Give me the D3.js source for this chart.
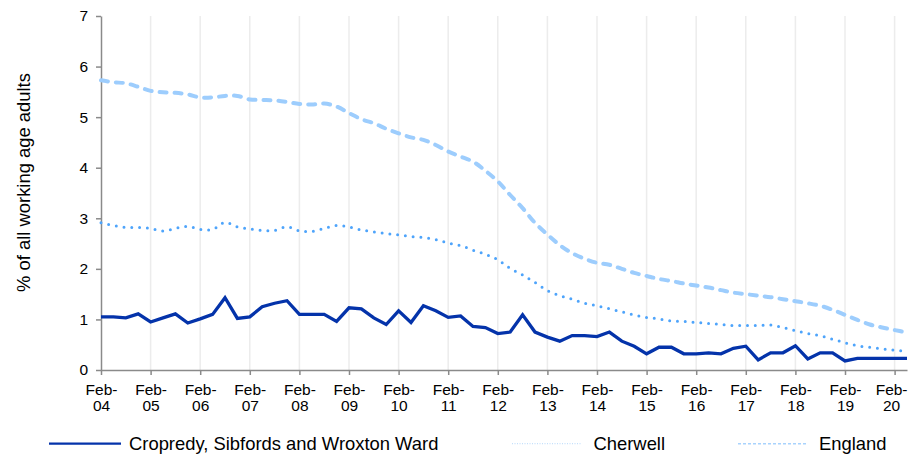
<!DOCTYPE html>
<html>
<head>
<meta charset="utf-8">
<script src="https://cdn.jsdelivr.net/npm/d3@7"></script>
<style>
  html, body { margin: 0; padding: 0; background: #fff; }
  svg { display: block; font-family: "Liberation Sans", Arial, sans-serif; }
</style>
</head>
<body>
<svg id="chart" width="908" height="457"></svg>
<script>
// ---- Data (quarterly, Feb-04 .. May-20) ----
const quarters = [
  "Feb-04","May-04","Aug-04","Nov-04","Feb-05","May-05","Aug-05","Nov-05",
  "Feb-06","May-06","Aug-06","Nov-06","Feb-07","May-07","Aug-07","Nov-07",
  "Feb-08","May-08","Aug-08","Nov-08","Feb-09","May-09","Aug-09","Nov-09",
  "Feb-10","May-10","Aug-10","Nov-10","Feb-11","May-11","Aug-11","Nov-11",
  "Feb-12","May-12","Aug-12","Nov-12","Feb-13","May-13","Aug-13","Nov-13",
  "Feb-14","May-14","Aug-14","Nov-14","Feb-15","May-15","Aug-15","Nov-15",
  "Feb-16","May-16","Aug-16","Nov-16","Feb-17","May-17","Aug-17","Nov-17",
  "Feb-18","May-18","Aug-18","Nov-18","Feb-19","May-19","Aug-19","Nov-19",
  "Feb-20","May-20"
];
const tickLabels = ["Feb-04","Feb-05","Feb-06","Feb-07","Feb-08","Feb-09","Feb-10","Feb-11",
  "Feb-12","Feb-13","Feb-14","Feb-15","Feb-16","Feb-17","Feb-18","Feb-19","Feb-20"];
const yTicks = [0, 1, 2, 3, 4, 5, 6, 7];

const ward = [1.05,1.05,1.03,1.11,0.95,1.03,1.11,0.93,1.01,1.10,1.43,1.02,1.05,1.25,1.32,1.37,1.10,
  1.10,1.10,0.96,1.23,1.21,1.03,0.90,1.17,0.94,1.27,1.17,1.04,1.07,0.86,0.84,0.72,0.75,
  1.09,0.75,0.65,0.57,0.68,0.68,0.66,0.75,0.57,0.47,0.32,0.45,0.45,0.32,0.32,0.34,
  0.32,0.43,0.47,0.20,0.34,0.34,0.48,0.22,0.34,0.34,0.18,0.23,0.23,0.23,0.23,0.23];
const cherwell = [2.91,2.86,2.82,2.82,2.80,2.75,2.80,2.84,2.78,2.78,2.92,2.83,2.79,2.76,2.76,2.83,2.75,
  2.74,2.80,2.86,2.83,2.77,2.73,2.70,2.67,2.64,2.62,2.58,2.51,2.46,2.37,2.29,2.18,2.01,
  1.88,1.73,1.57,1.47,1.40,1.32,1.27,1.21,1.15,1.09,1.04,1.01,0.97,0.96,0.94,0.92,
  0.90,0.88,0.88,0.88,0.89,0.84,0.78,0.72,0.68,0.61,0.54,0.48,0.45,0.42,0.39,0.37];
const england = [5.73,5.69,5.67,5.60,5.52,5.49,5.48,5.45,5.39,5.39,5.42,5.42,5.35,5.34,5.33,5.30,5.26,
  5.25,5.27,5.21,5.08,4.96,4.88,4.77,4.68,4.60,4.55,4.45,4.32,4.22,4.12,3.94,3.73,
  3.46,3.20,2.91,2.68,2.47,2.31,2.20,2.12,2.08,2.00,1.92,1.86,1.80,1.76,1.71,1.67,1.63,
  1.58,1.53,1.50,1.47,1.44,1.40,1.36,1.32,1.27,1.19,1.09,0.99,0.90,0.84,0.79,0.74];
const seriesNames = ["Cropredy, Sibfords and Wroxton Ward", "Cherwell", "England"];

(function () {
// ---- Layout ----
const svg = d3.select("#chart");
const pL = 101, pR = 907, pT = 16, pB = 370;
const axisColor = "#8a8a8a";

const x = d3.scaleLinear().domain([0, quarters.length - 1]).range([pL, pR]);
const y = d3.scaleLinear().domain([0, 7]).range([pB, pT]);
const tickIdx = tickLabels.map(t => quarters.indexOf(t));

// vertical gridlines
svg.append("g").selectAll("line").data(tickIdx.slice(1)).join("line")
  .attr("x1", d => x(d)).attr("x2", d => x(d))
  .attr("y1", pT).attr("y2", pB)
  .attr("stroke", "#ececec").attr("stroke-width", 1.5);

// y axis
const yAxis = svg.append("g").attr("transform", `translate(${pL},0)`)
  .call(d3.axisLeft(y).tickValues(yTicks).tickSize(5).tickSizeOuter(0).tickPadding(8).tickFormat(d3.format("d")));
yAxis.select(".domain").attr("stroke", axisColor).attr("stroke-width", 1.5);
yAxis.selectAll(".tick line").attr("stroke", axisColor).attr("stroke-width", 1.5);
yAxis.selectAll(".tick text").attr("font-size", "15.5px").attr("fill", "#000")
  .attr("font-family", "'Liberation Sans', Arial, sans-serif");

// x axis
const xAxis = svg.append("g").attr("transform", `translate(0,${pB})`)
  .call(d3.axisBottom(x).tickValues(tickIdx).tickSize(5).tickSizeOuter(0)
    .tickFormat(d => quarters[d]));
xAxis.select(".domain").attr("stroke", axisColor).attr("stroke-width", 1.5);
xAxis.selectAll(".tick line").attr("stroke", axisColor).attr("stroke-width", 1.5);
const lastTick = tickIdx[tickIdx.length - 1];
xAxis.selectAll(".tick text").each(function(d) {
  const parts = quarters[d].split("-");
  const dx = d === lastTick ? -3.5 : 0;
  const t = d3.select(this).text(null)
    .attr("font-size", "15.5px").attr("fill", "#000")
    .attr("font-family", "'Liberation Sans', Arial, sans-serif")
    .attr("y", 0).attr("dy", null);
  t.append("tspan").attr("x", dx).attr("y", 24.7).text(parts[0] + "-");
  t.append("tspan").attr("x", dx).attr("y", 41.3).text(parts[1]);
});

// y axis title
svg.append("text")
  .attr("transform", "translate(29.5,182.5) rotate(-90)")
  .attr("text-anchor", "middle")
  .attr("font-size", "18.4px").attr("fill", "#000")
  .text("% of all working age adults");

// lines
const smooth = d3.line().x((d, i) => x(i)).y(d => y(d)).curve(d3.curveCatmullRom.alpha(0.5));
const straight = d3.line().x((d, i) => x(i)).y(d => y(d));

svg.append("path").datum(england).attr("d", smooth)
  .attr("fill", "none").attr("stroke", "#9dcdfd").attr("stroke-width", 4)
  .attr("stroke-linecap", "round").attr("stroke-dasharray", "7 8");
svg.append("path").datum(cherwell).attr("d", smooth)
  .attr("fill", "none").attr("stroke", "#4ea4fb").attr("stroke-width", 3)
  .attr("stroke-linecap", "round").attr("stroke-dasharray", "0 7.8");
svg.append("path").datum(ward).attr("d", straight)
  .attr("fill", "none").attr("stroke", "#0433aa").attr("stroke-width", 3.3)
  .attr("stroke-linejoin", "miter");

// legend
const legendItems = [
  {name: seriesNames[0], x1: 49, x2: 121, tx: 129, stroke: "#0433aa", w: 2.2, dash: null},
  {name: seriesNames[1], x1: 512, x2: 582, tx: 593.5, stroke: "#c4e0fb", w: 1.2, dash: "1 1.5"},
  {name: seriesNames[2], x1: 738, x2: 808, tx: 819, stroke: "#a9d3fd", w: 1.6, dash: "3 2"}
];
const lg = svg.append("g").selectAll("g").data(legendItems).join("g");
lg.append("line")
  .attr("x1", d => d.x1).attr("x2", d => d.x2).attr("y1", 443.7).attr("y2", 443.7)
  .attr("stroke", d => d.stroke).attr("stroke-width", d => d.w)
  .attr("stroke-dasharray", d => d.dash);
lg.append("text").attr("x", d => d.tx).attr("y", 450.3)
  .attr("font-size", "18.4px").attr("fill", "#000").text(d => d.name);
})();
</script>
</body>
</html>
